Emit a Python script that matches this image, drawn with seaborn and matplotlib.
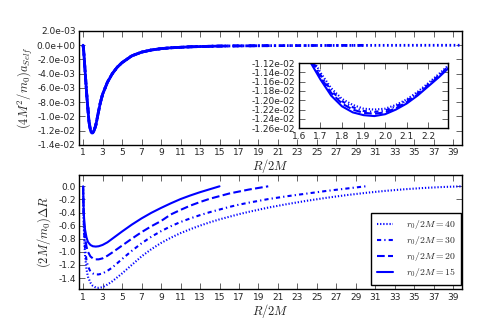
import numpy as np
import matplotlib
matplotlib.use("Agg")
import matplotlib.pyplot as plt
import seaborn as sns
from matplotlib.ticker import FormatStrFormatter, MultipleLocator

# ---------------- data ----------------
r0_values = [40, 30, 20, 15]
legend_labels = [r"$r_0/2M=40$", r"$r_0/2M=30$", r"$r_0/2M=20$", r"$r_0/2M=15$"]

# self-force (units of 1e-3), common R grid
sf_R = [1.0, 1.05, 1.1, 1.15, 1.2, 1.3, 1.4, 1.5,
        1.6, 1.65, 1.7, 1.75, 1.8, 1.85, 1.9, 1.95, 2.0, 2.05, 2.1, 2.15, 2.2, 2.25, 2.3,
        2.4, 2.5, 2.75, 3.0, 3.5, 4.0, 4.5, 5, 6, 7, 8, 9, 10, 12, 14, 15, 17, 20, 25, 30, 35, 40]
sf_head = [0.0, -0.6, -1.5, -2.5, -3.5, -5.5, -7.4, -9.0]
sf_min_r15 = [-10.70, -11.15, -11.55, -11.90, -12.13, -12.26, -12.32, -12.34, -12.30, -12.20, -12.07, -11.90, -11.70, -11.50, -11.28]
sf_min_r20 = [-10.65, -11.10, -11.50, -11.84, -12.07, -12.20, -12.27, -12.29, -12.26, -12.17, -12.04, -11.88, -11.68, -11.48, -11.26]
sf_min_r30 = [-10.60, -11.05, -11.45, -11.79, -12.02, -12.15, -12.23, -12.25, -12.22, -12.13, -12.01, -11.85, -11.66, -11.46, -11.24]
sf_min_r40 = [-10.55, -11.00, -11.40, -11.74, -11.97, -12.10, -12.18, -12.20, -12.18, -12.10, -11.98, -11.82, -11.63, -11.43, -11.22]
sf_tail = [-10.6, -9.9, -8.2, -6.9, -5.2, -4.0, -3.1, -2.45, -1.5, -0.98, -0.68, -0.49, -0.37,
           -0.23, -0.16, -0.13, -0.10, -0.07, -0.045, -0.03, -0.02, -0.015]

# orbital shift Delta R
dr_R = [1.0, 1.05, 1.1, 1.2, 1.35, 1.5, 1.75, 2.0, 2.3, 2.6, 3.0, 3.5, 4, 5, 6, 7, 8, 9, 10,
        11, 12, 13, 14, 15, 16, 17, 18, 20, 22, 24, 26, 28, 30, 32, 34, 36, 38, 40]
dr_r15 = [0.0, -0.30, -0.48, -0.66, -0.78, -0.85, -0.895, -0.915, -0.92, -0.915, -0.895, -0.855,
          -0.80, -0.69, -0.585, -0.49, -0.405, -0.33, -0.26, -0.195, -0.14, -0.09, -0.045, 0.0]
dr_r20 = [0.0, -0.35, -0.56, -0.78, -0.92, -1.00, -1.07, -1.10, -1.115, -1.115, -1.10, -1.06,
          -1.01, -0.905, -0.80, -0.70, -0.61, -0.53, -0.43, -0.36, -0.295, -0.24, -0.19, -0.15,
          -0.11, -0.08, -0.05, 0.0]
dr_r30 = [0.0, -0.42, -0.68, -0.95, -1.13, -1.22, -1.30, -1.33, -1.345, -1.345, -1.33, -1.29,
          -1.24, -1.11, -0.985, -0.87, -0.77, -0.685, -0.61, -0.545, -0.49, -0.44, -0.395, -0.355,
          -0.315, -0.28, -0.25, -0.195, -0.15, -0.11, -0.07, -0.035, 0.0]
dr_r40 = [0.0, -0.45, -0.75, -1.05, -1.27, -1.38, -1.47, -1.52, -1.545, -1.55, -1.54, -1.50,
          -1.45, -1.33, -1.20, -1.07, -0.96, -0.865, -0.785, -0.715, -0.655, -0.60, -0.55, -0.505,
          -0.465, -0.425, -0.39, -0.325, -0.27, -0.22, -0.175, -0.135, -0.10, -0.07, -0.045,
          -0.025, -0.01, 0.0]

x_ticks = list(range(1, 40, 2))

# ---------------- style ----------------
sns.set_style("ticks")
plt.rcParams.update({
    "font.family": ["DejaVu Sans"],
    "mathtext.fontset": "cm",
    "axes.unicode_minus": False,
    "xtick.direction": "in",
    "ytick.direction": "in",
    "xtick.top": True,
    "ytick.right": True,
    "xtick.major.size": 4,
    "ytick.major.size": 4,
    "xtick.major.width": 0.5,
    "ytick.major.width": 0.5,
    "axes.linewidth": 1.0,
    "axes.edgecolor": "black",
    "xtick.labelsize": 6.5,
    "ytick.labelsize": 6.5,
    "xtick.major.pad": 2.5,
    "ytick.major.pad": 2.5,
})

styles = {40: (0, (0.6, 0.9)), 30: (0, (2.0, 1.5, 0.6, 1.5)), 20: "--", 15: "-"}

sf_series = {}
for r0, mid in zip([15, 20, 30, 40], [sf_min_r15, sf_min_r20, sf_min_r30, sf_min_r40]):
    vals = np.array(sf_head + mid + sf_tail) * 1e-3
    R = np.array(sf_R)
    keep = R <= r0
    sf_series[r0] = (R[keep], vals[keep])

dr_series = {15: dr_r15, 20: dr_r20, 30: dr_r30, 40: dr_r40}

fig = plt.figure(figsize=(4.98, 3.22), dpi=100)
ax1 = fig.add_axes([0.159, 0.550, 0.769, 0.354])
ax2 = fig.add_axes([0.159, 0.102, 0.769, 0.354])
axin = fig.add_axes([0.600, 0.602, 0.299, 0.202])

# top
for r0 in r0_values:
    R, v = sf_series[r0]
    sns.lineplot(x=R, y=v, ax=ax1, color="b", linestyle=styles[r0], lw=2, sort=False)
    sns.lineplot(x=R, y=v, ax=axin, color="b", linestyle=styles[r0], lw=1.5, sort=False)

ax1.set_xlim(0.6, 39.9)
ax1.set_ylim(-0.014, 0.002)
ax1.set_xticks(x_ticks)
ax1.yaxis.set_major_locator(MultipleLocator(0.002))
ax1.yaxis.set_major_formatter(FormatStrFormatter("%.1e"))
ax1.set_xlabel(r"$R/2M$", fontsize=9, labelpad=0)
ax1.set_ylabel(r"$(4M^2/m_0)a_{Self}$", fontsize=9, labelpad=1)

axin.set_xlim(1.6, 2.29)
axin.set_ylim(-0.0126, -0.0112)
axin.xaxis.set_major_locator(MultipleLocator(0.1))
axin.yaxis.set_major_locator(MultipleLocator(0.0002))
axin.yaxis.set_major_formatter(FormatStrFormatter("%.2e"))
axin.xaxis.set_major_formatter(FormatStrFormatter("%.1f"))
axin.set_xlabel("")
axin.set_ylabel("")

# bottom
for r0, lab in zip(r0_values, legend_labels):
    R = dr_R[:len(dr_series[r0])]
    sns.lineplot(x=R, y=dr_series[r0], ax=ax2, color="b", linestyle=styles[r0], lw=1.5,
                 label=lab, sort=False)

ax2.set_xlim(0.6, 39.9)
ax2.set_ylim(-1.57, 0.17)
ax2.set_xticks(x_ticks)
ax2.yaxis.set_major_locator(MultipleLocator(0.2))
ax2.yaxis.set_major_formatter(FormatStrFormatter("%.1f"))
ax2.set_xlabel(r"$R/2M$", fontsize=9, labelpad=0)
ax2.set_ylabel(r"$(2M/m_0)\Delta R$", fontsize=9)
leg = ax2.legend(loc="lower right", bbox_to_anchor=(0.997, 0.04), fontsize=7, frameon=True,
                 fancybox=False, edgecolor="black", framealpha=1, borderaxespad=0,
                 handlelength=1.7, handletextpad=1.3, borderpad=0.55, labelspacing=0.3)
leg.get_frame().set_linewidth(1.0)

for a in (ax1, axin):
    if a.get_legend() is not None:
        a.get_legend().remove()

fig.savefig("out.png", dpi=100)
